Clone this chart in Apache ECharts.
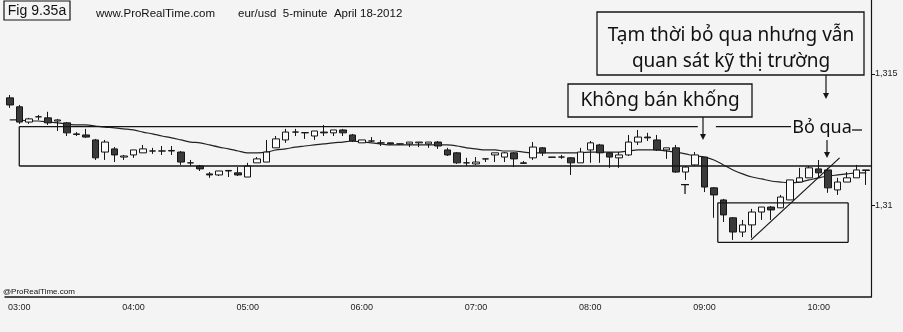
<!DOCTYPE html>
<html><head><meta charset="utf-8">
<script src="https://cdn.jsdelivr.net/npm/echarts@6/dist/echarts.min.js"></script>
<style>html,body{margin:0;padding:0;background:#f4f4f4}#c{width:903px;height:332px}</style>
</head><body><div id="c"></div>
<script>
const times = ["02:55",
"03:00","03:05","03:10","03:15","03:20","03:25","03:30","03:35","03:40","03:45","03:50","03:55",
"04:00","04:05","04:10","04:15","04:20","04:25","04:30","04:35","04:40","04:45","04:50","04:55",
"05:00","05:05","05:10","05:15","05:20","05:25","05:30","05:35","05:40","05:45","05:50","05:55",
"06:00","06:05","06:10","06:15","06:20","06:25","06:30","06:35","06:40","06:45","06:50","06:55",
"07:00","07:05","07:10","07:15","07:20","07:25","07:30","07:35","07:40","07:45","07:50","07:55",
"08:00","08:05","08:10","08:15","08:20","08:25","08:30","08:35","08:40","08:45","08:50","08:55",
"09:00","09:05","09:10","09:15","09:20","09:25","09:30","09:35","09:40","09:45","09:50","09:55",
"10:00","10:05","10:10","10:15","10:20","10:25"];

// [open, close, low, high]
const candles = [
[1.31409,1.31382,1.31371,1.31420],[1.31375,1.31317,1.31310,1.31382],[1.31317,1.31329,1.31310,1.31333],
[1.31337,1.31337,1.31325,1.31344],[1.31333,1.31314,1.31306,1.31356],[1.31321,1.31325,1.31283,1.31329],
[1.31314,1.31276,1.31264,1.31317],[1.31272,1.31270,1.31264,1.31279],[1.31268,1.31260,1.31257,1.31291],
[1.31249,1.31181,1.31173,1.31253],[1.31203,1.31241,1.31173,1.31249],[1.31215,1.31192,1.31165,1.31222],
[1.31184,1.31188,1.31173,1.31192],[1.31192,1.31211,1.31181,1.31211],[1.31200,1.31215,1.31200,1.31230],
[1.31207,1.31207,1.31196,1.31219],[1.31207,1.31207,1.31192,1.31226],[1.31207,1.31209,1.31192,1.31226],
[1.31203,1.31165,1.31154,1.31207],[1.31162,1.31162,1.31150,1.31173],[1.31150,1.31139,1.31131,1.31154],
[1.31120,1.31116,1.31105,1.31127],[1.31116,1.31131,1.31112,1.31131],[1.31131,1.31133,1.31108,1.31133],
[1.31124,1.31116,1.31112,1.31146],[1.31108,1.31150,1.31108,1.31162],[1.31162,1.31177,1.31162,1.31184],
[1.31165,1.31203,1.31165,1.31249],[1.31219,1.31253,1.31219,1.31264],[1.31249,1.31279,1.31238,1.31291],
[1.31279,1.31279,1.31264,1.31291],[1.31276,1.31277,1.31253,1.31277],[1.31264,1.31283,1.31249,1.31283],
[1.31279,1.31276,1.31264,1.31306],[1.31276,1.31287,1.31264,1.31287],[1.31287,1.31276,1.31264,1.31291],
[1.31268,1.31245,1.31241,1.31272],[1.31238,1.31249,1.31238,1.31249],[1.31245,1.31245,1.31241,1.31260],
[1.31238,1.31238,1.31226,1.31249],[1.31238,1.31234,1.31230,1.31238],[1.31234,1.31234,1.31230,1.31234],
[1.31234,1.31241,1.31222,1.31241],[1.31238,1.31241,1.31222,1.31241],[1.31234,1.31241,1.31219,1.31241],
[1.31241,1.31226,1.31215,1.31245],[1.31211,1.31192,1.31188,1.31219],[1.31200,1.31162,1.31158,1.31203],
[1.31162,1.31162,1.31150,1.31181],[1.31158,1.31165,1.31154,1.31184],[1.31177,1.31177,1.31165,1.31177],
[1.31192,1.31200,1.31165,1.31200],[1.31184,1.31200,1.31165,1.31203],[1.31200,1.31177,1.31146,1.31203],
[1.31162,1.31160,1.31158,1.31169],[1.31181,1.31222,1.31173,1.31241],[1.31219,1.31200,1.31188,1.31222],
[1.31184,1.31183,1.31181,1.31184],[1.31184,1.31184,1.31177,1.31192],[1.31181,1.31162,1.31116,1.31184],
[1.31162,1.31203,1.31162,1.31219],[1.31211,1.31238,1.31162,1.31245],[1.31230,1.31200,1.31162,1.31234],
[1.31200,1.31184,1.31143,1.31203],[1.31181,1.31192,1.31143,1.31203],[1.31192,1.31241,1.31188,1.31268],
[1.31241,1.31260,1.31230,1.31287],[1.31260,1.31257,1.31245,1.31276],[1.31249,1.31211,1.31207,1.31268],
[1.31211,1.31219,1.31177,1.31219],[1.31219,1.31127,1.31124,1.31230],[1.31127,1.31146,1.31097,1.31150],
[1.31154,1.31192,1.31150,1.31203],[1.31184,1.31070,1.31051,1.31184],[1.31067,1.31040,1.30953,1.31070],
[1.31021,1.30964,1.30937,1.31025],[1.30953,1.30899,1.30869,1.30956],[1.30899,1.30926,1.30880,1.30945],
[1.30926,1.30975,1.30877,1.30987],[1.30975,1.30994,1.30945,1.30994],[1.30994,1.30983,1.30945,1.30998],
[1.30991,1.31032,1.30991,1.31040],[1.31021,1.31097,1.31021,1.31097],[1.31089,1.31105,1.31089,1.31143],
[1.31105,1.31143,1.31105,1.31150],[1.31139,1.31124,1.31108,1.31173],[1.31135,1.31067,1.31048,1.31143],
[1.31059,1.31089,1.31040,1.31105],[1.31089,1.31105,1.31089,1.31127],[1.31105,1.31135,1.31105,1.31154],
[1.31135,1.31133,1.31078,1.31135]];

const ma = [1.31325,1.31325,1.31321,1.31321,1.31317,1.31314,1.31310,1.31306,1.31306,1.31302,
1.31298,1.31295,1.31291,1.31287,1.31279,1.31272,1.31264,1.31257,1.31249,1.31241,
1.31238,1.31230,1.31222,1.31215,1.31207,1.31200,1.31200,1.31203,1.31211,1.31215,
1.31222,1.31226,1.31230,1.31234,1.31238,1.31241,1.31245,1.31241,1.31238,1.31234,
1.31230,1.31230,1.31230,1.31230,1.31230,1.31230,1.31230,1.31226,1.31219,1.31215,
1.31211,1.31211,1.31207,1.31207,1.31203,1.31200,1.31200,1.31200,1.31200,1.31200,
1.31200,1.31203,1.31203,1.31203,1.31203,1.31207,1.31211,1.31211,1.31211,1.31207,
1.31203,1.31196,1.31188,1.31184,1.31173,1.31154,1.31135,1.31120,1.31108,1.31101,
1.31093,1.31089,1.31086,1.31089,1.31097,1.31105,1.31112,1.31116,1.31120,1.31124,1.31124];

const yTicks = [1.31, 1.315];
const yMin = 1.30652, yMax = 1.31781;
const rangeLevels = [1.3130, 1.3115];       // trading range top / bottom
const rangeStartIdx = 1;
const rangeTopBreaks = [[1, 72.3], [74.2, 82.1]];
const lowBox = {from: 74.4, to: 88.1, top: 1.3101, bottom: 1.3086};
const trendLine = [[77.9, 1.30869], [87.2, 1.31181]];

const chart = echarts.init(document.getElementById('c'), null, {renderer: 'canvas'});
const INK = '#151515';
chart.setOption({
  backgroundColor: '#f4f4f4',
  animation: false,
  grid: {left: 5, right: 32, top: 0, bottom: 35},
  xAxis: {
    type: 'category', data: times, boundaryGap: true,
    axisLine: {lineStyle: {color: INK, width: 1.5}},
    axisTick: {inside: true, length: 3, alignWithLabel: true, lineStyle: {color: INK},
      interval: (i, v) => v.endsWith(':00')},
    axisLabel: {interval: (i, v) => v.endsWith(':00'), color: '#222', fontSize: 9,
      fontFamily: 'Liberation Sans', margin: 6},
    splitLine: {show: false}
  },
  yAxis: {
    type: 'value', position: 'right', min: yMin, max: yMax, scale: true,
    axisLine: {show: true, lineStyle: {color: INK, width: 1.2}},
    axisTick: {show: true, length: 4, customValues: yTicks, lineStyle: {color: INK}},
    axisLabel: {customValues: yTicks, color: '#222', fontSize: 9, fontFamily: 'Liberation Sans',
      margin: 4, formatter: v => String(+v.toFixed(3)).replace('.', ',')},
    splitLine: {show: false}
  },
  series: [{
    type: 'candlestick', data: candles, barWidth: 7,
    itemStyle: {color: '#fbfbfb', color0: '#3a3a3a', borderColor: INK, borderColor0: INK, borderWidth: 1}
  }, {
    type: 'line', data: ma, showSymbol: false, smooth: 0.3,
    lineStyle: {color: '#222', width: 1.2}, z: 1
  }]
});

function px(i, v) {
  const a = Math.floor(i), f = i - a;
  const p0 = chart.convertToPixel({xAxisIndex: 0, yAxisIndex: 0}, [a, v]);
  const p1 = chart.convertToPixel({xAxisIndex: 0, yAxisIndex: 0}, [a + 1, v]);
  return [p0[0] + (p1[0] - p0[0]) * f, p0[1]];
}
const rightX = 871;
const g = [];
function seg(p, q, w) {
  g.push({type: 'line', shape: {x1: p[0], y1: p[1], x2: q[0], y2: q[1]},
    style: {stroke: INK, lineWidth: w || 1.3}, z: 50});
}
function arrow(x, y1, y2) {
  seg([x, y1], [x, y2 - 4], 1.2);
  g.push({type: 'polygon', shape: {points: [[x - 3, y2 - 6], [x + 3, y2 - 6], [x, y2]]},
    style: {fill: INK}, z: 50});
}
function txt(t, x, y, size, fam, align) {
  g.push({type: 'text', z: 60, style: {text: t, x: x, y: y, fill: '#111',
    font: size + 'px ' + fam, align: align || 'center', verticalAlign: 'middle',
    textAlign: align || 'center', textVerticalAlign: 'middle'}});
}
function box(x, y, w, h) {
  g.push({type: 'rect', z: 55, shape: {x: x, y: y, width: w, height: h},
    style: {fill: '#f4f4f4', stroke: INK, lineWidth: 1.3}});
}

// trading range
const botY = px(1, rangeLevels[1])[1];
rangeTopBreaks.forEach(b => seg(px(b[0], rangeLevels[0]), px(b[1], rangeLevels[0])));
seg(px(rangeStartIdx, rangeLevels[1]), [rightX, botY]);
seg(px(rangeStartIdx, rangeLevels[0]), px(rangeStartIdx, rangeLevels[1]));
// lower box
const b1 = px(lowBox.from, lowBox.top), b2 = px(lowBox.to, lowBox.bottom);
seg([b1[0], b1[1]], [b2[0], b1[1]]); seg([b1[0], b2[1]], [b2[0], b2[1]]);
seg([b1[0], b1[1]], [b1[0], b2[1]]); seg([b2[0], b1[1]], [b2[0], b2[1]]);
// trend line
seg(px(trendLine[0][0], trendLine[0][1]), px(trendLine[1][0], trendLine[1][1]), 1.2);

// annotations
const ANN = '"Noto Sans"';
box(597, 12, 267, 63);
txt('Tạm thời bỏ qua nhưng vẫn', 731, 36, 19, ANN);
txt('quan sát kỹ thị trường', 731, 62, 19, ANN);
arrow(826, 75, 99);
box(568, 84, 184, 33);
txt('Không bán khống', 660, 101, 19, ANN);
arrow(703, 117, 140);
txt('Bỏ qua', 822, 128, 18, ANN);
seg([852, 130], [862, 130], 1.3);
arrow(827, 140, 158);
txt('T', 685, 190, 14, '"Liberation Sans"');

// header / footer
g.push({type: 'rect', z: 55, shape: {x: 4, y: 1, width: 66, height: 19},
  style: {fill: 'none', stroke: INK, lineWidth: 1.2}});
txt('Fig 9.35a', 37, 11, 14, '"Liberation Sans"');
txt('www.ProRealTime.com', 96, 14, 11.5, '"Liberation Sans"', 'left');
txt('eur/usd  5-minute  April 18-2012', 238, 14, 11.5, '"Liberation Sans"', 'left');
txt('@ProRealTime.com', 3, 292, 8, '"Liberation Sans"', 'left');

chart.setOption({graphic: {elements: g}});
</script></body></html>
